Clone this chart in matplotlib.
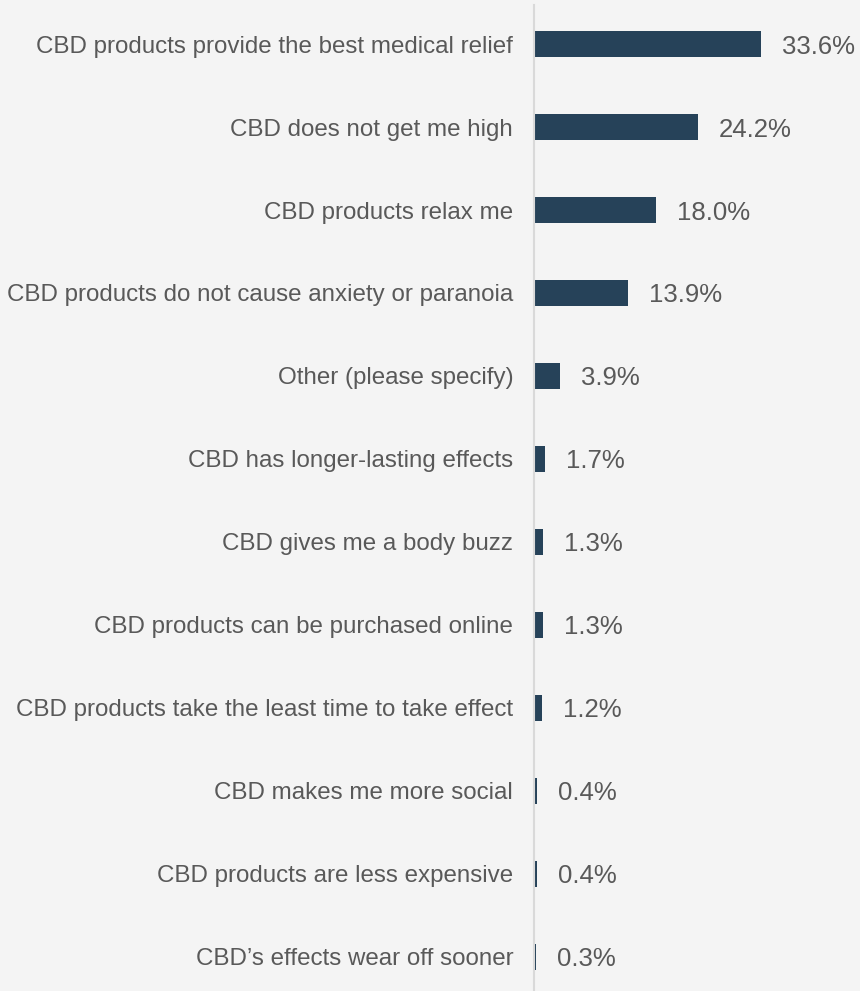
import matplotlib
matplotlib.use("Agg")
import matplotlib.pyplot as plt

categories = [
    "CBD products provide the best medical relief",
    "CBD does not get me high",
    "CBD products relax me",
    "CBD products do not cause anxiety or paranoia",
    "Other (please specify)",
    "CBD has longer-lasting effects",
    "CBD gives me a body buzz",
    "CBD products can be purchased online",
    "CBD products take the least time to take effect",
    "CBD makes me more social",
    "CBD products are less expensive",
    "CBD\u2019s effects wear off sooner",
]
values = [33.6, 24.2, 18.0, 13.9, 3.9, 1.7, 1.3, 1.3, 1.2, 0.4, 0.4, 0.3]

BG = "#f4f4f4"
BAR = "#264259"
TXT = "#595959"

plt.rcParams["font.family"] = ["Liberation Sans", "DejaVu Sans"]

W, H = 860, 991
fig = plt.figure(figsize=(W / 100, H / 100), dpi=100, facecolor=BG)
ax = fig.add_axes([534 / W, 0, 1 - 534 / W, 1 - 5 / H])
ax.set_facecolor(BG)

y = list(range(len(categories)))
ax.barh(y, values, height=0.31, color=BAR)

ax.set_xlim(0, (W - 534) / 6.76)
ax.set_ylim(11.41, -0.47)

ax.set_yticks(y)
ax.set_yticklabels(categories, fontsize=17.4, color=TXT, va="center_baseline")
ax.tick_params(axis="y", length=0, pad=15)
ax.set_xticks([])

for s in ["top", "right", "bottom"]:
    ax.spines[s].set_visible(False)
ax.spines["left"].set_color("#d9d9d9")
ax.spines["left"].set_linewidth(1.5)

for yi, v in zip(y, values):
    ax.annotate(f"{v:.1f}%", xy=(v, yi), xytext=(15, 0), textcoords="offset points",
                va="center_baseline", ha="left", fontsize=18.5, color=TXT)

fig.savefig("out.png", dpi=100, facecolor=BG)
